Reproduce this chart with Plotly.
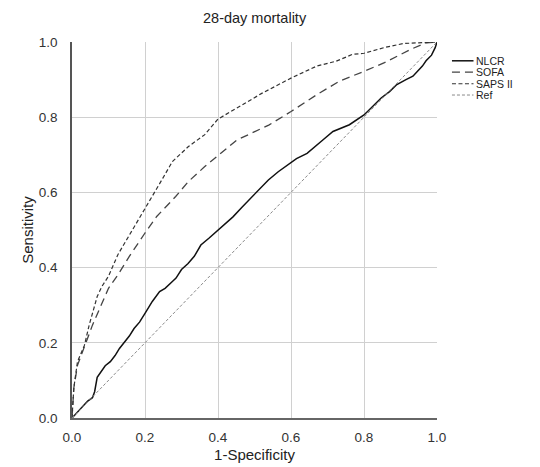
import plotly.graph_objects as go

nlcr_x = [0, 0.01, 0.03, 0.043, 0.056, 0.062, 0.069, 0.08, 0.091, 0.105, 0.118, 0.13, 0.144, 0.157, 0.17, 0.185,
          0.2, 0.22, 0.24, 0.255, 0.275, 0.285, 0.30, 0.318, 0.335, 0.353, 0.375, 0.4, 0.42, 0.441, 0.465, 0.494,
          0.515, 0.538, 0.565, 0.591, 0.615, 0.644, 0.665, 0.688, 0.715, 0.74, 0.76, 0.8, 0.825, 0.847, 0.87,
          0.89, 0.915, 0.934, 0.96, 0.97, 0.985, 0.995, 1.0]
nlcr_y = [0, 0.01, 0.031, 0.045, 0.054, 0.07, 0.108, 0.125, 0.139, 0.15, 0.166, 0.185, 0.202, 0.218, 0.238, 0.255,
          0.278, 0.31, 0.336, 0.345, 0.363, 0.372, 0.395, 0.411, 0.43, 0.46, 0.478, 0.5, 0.515, 0.535, 0.56, 0.588,
          0.61, 0.633, 0.655, 0.673, 0.69, 0.704, 0.72, 0.74, 0.762, 0.772, 0.78, 0.806, 0.83, 0.851, 0.868,
          0.887, 0.9, 0.909, 0.936, 0.95, 0.965, 0.985, 1.0]

saps_x = [0, 0.005, 0.015, 0.034, 0.047, 0.069, 0.082, 0.1, 0.126, 0.161, 0.2, 0.223, 0.249, 0.275, 0.319,
          0.363, 0.381, 0.4, 0.451, 0.521, 0.6, 0.671, 0.724, 0.768, 0.8, 0.855, 0.908, 0.97, 1.0]
saps_y = [0, 0.08, 0.15, 0.193, 0.247, 0.323, 0.35, 0.377, 0.435, 0.492, 0.558, 0.594, 0.638, 0.682, 0.722,
          0.753, 0.775, 0.795, 0.824, 0.864, 0.904, 0.936, 0.949, 0.967, 0.97, 0.985, 0.996, 1.0, 1.0]

sofa_x = [0, 0.005, 0.015, 0.034, 0.056, 0.074, 0.1, 0.126, 0.157, 0.2, 0.232, 0.284, 0.319, 0.363, 0.451,
          0.539, 0.6, 0.671, 0.733, 0.8, 0.856, 0.927, 0.97, 1.0]
sofa_y = [0, 0.08, 0.14, 0.19, 0.247, 0.287, 0.345, 0.381, 0.43, 0.492, 0.536, 0.589, 0.629, 0.668, 0.739,
          0.779, 0.815, 0.86, 0.896, 0.922, 0.945, 0.98, 0.998, 1.0]

ref_x = [0, 1]
ref_y = [0, 1]

series_names = ["NLCR", "SOFA", "SAPS II", "Ref"]
tick_vals = [0, 0.2, 0.4, 0.6, 0.8, 1.0]
tick_text = ["0.0", "0.2", "0.4", "0.6", "0.8", "1.0"]

styles = [
    dict(color="#111111", width=1.5),
    dict(color="#444444", width=1.3, dash="8px,5px"),
    dict(color="#333333", width=1.2, dash="4px,2.5px"),
    dict(color="#8a8a8a", width=1, dash="3px,2px"),
]
data = [(nlcr_x, nlcr_y), (sofa_x, sofa_y), (saps_x, saps_y), (ref_x, ref_y)]

fig = go.Figure()
for (xs, ys), name, st in zip(data, series_names, styles):
    fig.add_trace(go.Scatter(x=xs, y=ys, mode="lines", name=name, line=st, showlegend=False))

# compact legend drawn with shapes and annotations (paper coordinates)
leg_y = [0.95, 0.92, 0.889, 0.859]
shapes = []
annotations = []
for name, st, yy in zip(series_names, styles, leg_y):
    shapes.append(dict(type="line", xref="paper", yref="paper", x0=1.041, x1=1.1, y0=yy, y1=yy,
                       line=dict(color=st["color"], width=st["width"], dash=st.get("dash", "solid"))))
    annotations.append(dict(xref="paper", yref="paper", x=1.102, y=yy, xanchor="left", yanchor="middle",
                            text=name, showarrow=False, font=dict(size=10.5, color="#222222")))

annotations.append(dict(xref="paper", yref="paper", x=0.5, y=1.0, yshift=34, xanchor="center",
                        yanchor="top", text="28-day mortality", showarrow=False,
                        font=dict(size=14.5, color="#222222")))

font_family = "Liberation Sans, Arial, Helvetica, sans-serif"
# page body has an 8px default margin, so the figure is sized/offset to compensate
fig.update_layout(
    width=532, height=459,
    margin=dict(l=64, r=103, t=34, b=49),
    paper_bgcolor="white", plot_bgcolor="white",
    font=dict(family=font_family, color="#222222", size=13),
    showlegend=False,
    shapes=shapes,
    annotations=annotations,
)
fig.update_xaxes(range=[0, 1], tickvals=tick_vals, ticktext=tick_text, showgrid=True,
                 gridcolor="#d0d0d0", gridwidth=1, zeroline=False, showline=True,
                 linecolor="#666666", linewidth=1.5, ticks="", ticklen=0, ticklabelstandoff=6,
                 automargin=False,
                 title=dict(text="1-Specificity", font=dict(size=15), standoff=6),
                 tickfont=dict(size=13.5, color="#333333"))
fig.update_yaxes(range=[0, 1], tickvals=tick_vals, ticktext=tick_text, showgrid=True,
                 gridcolor="#d0d0d0", gridwidth=1, zeroline=False, showline=True,
                 linecolor="#555555", linewidth=1.5, ticks="", ticklen=0, ticklabelstandoff=10,
                 automargin=False,
                 title=dict(text="Sensitivity", font=dict(size=15), standoff=2),
                 tickfont=dict(size=13.5, color="#333333"))

fig.write_html("out.html")
